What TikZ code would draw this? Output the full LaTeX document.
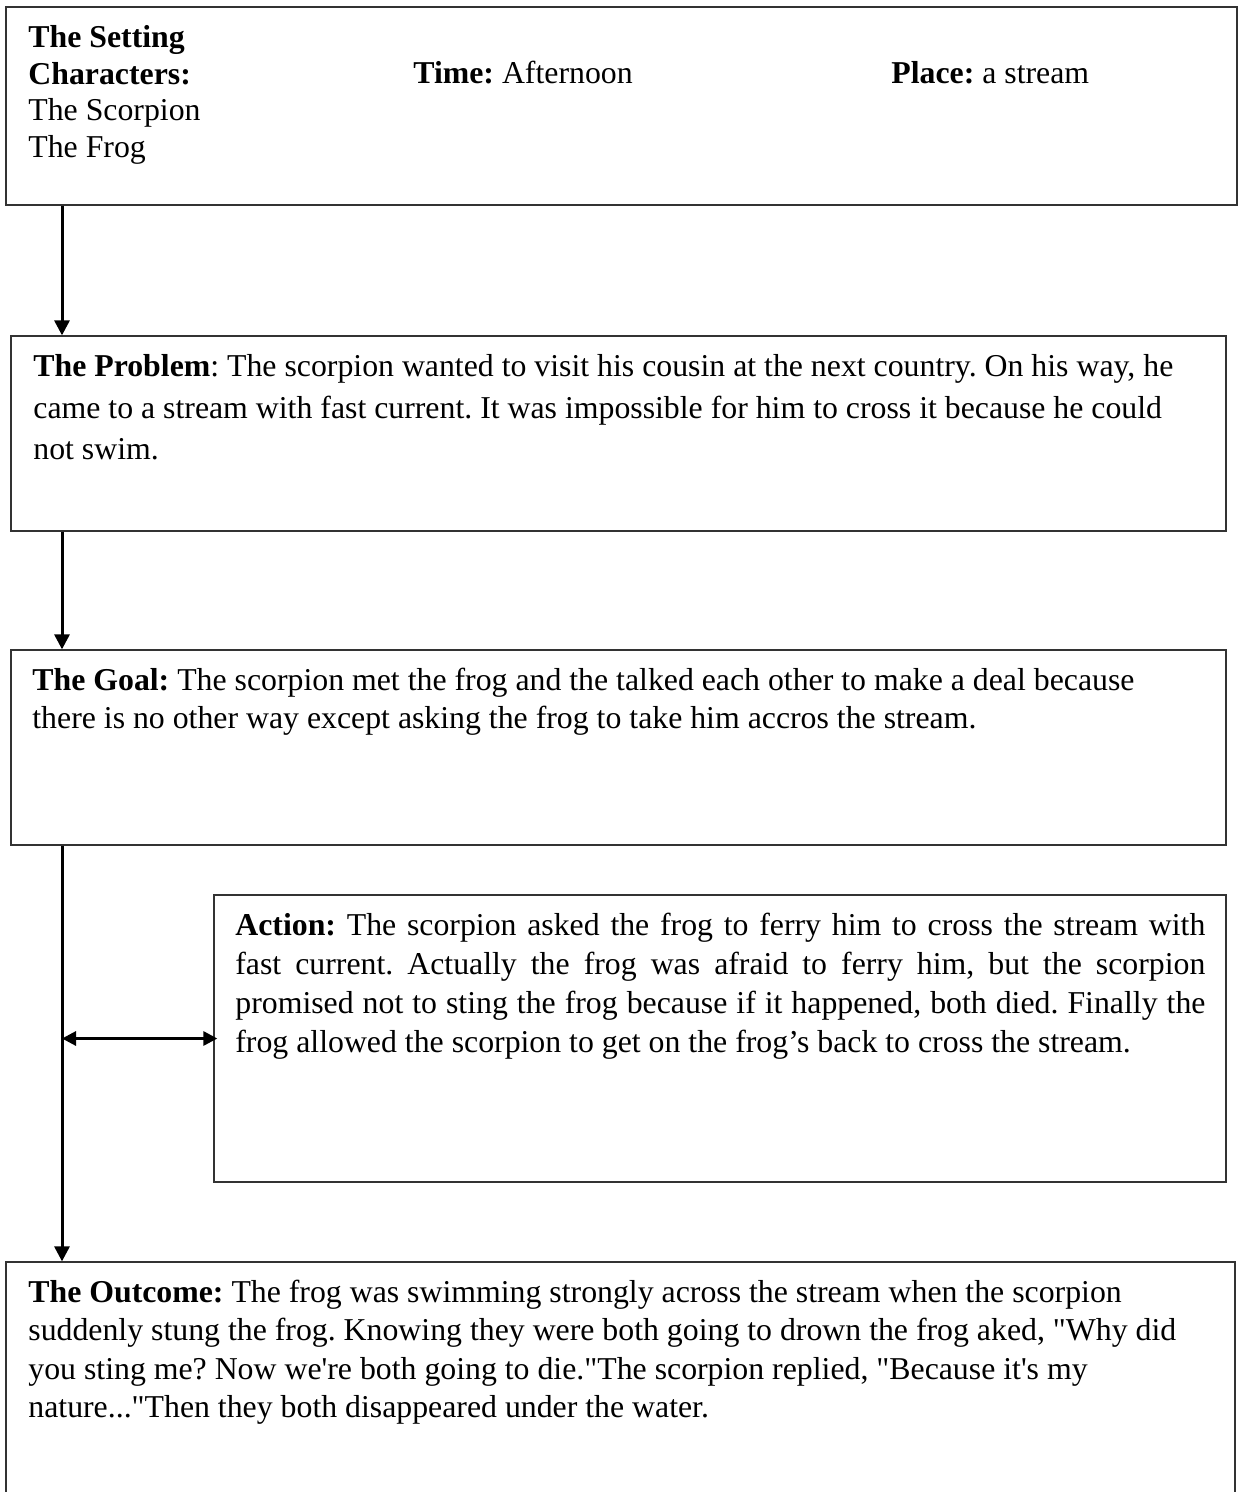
\documentclass[tikz,border=0pt]{standalone}
\usepackage{fontspec}
\setmainfont{Liberation Serif}
\usetikzlibrary{arrows.meta,fit}
\newcommand{\qd}{\textquotedbl{}}
\newcommand{\qs}{\textquotesingle{}}
\begin{document}
\frenchspacing
\begin{tikzpicture}[x=0.5pt,y=-0.5pt,
  box/.style={draw=black!80, line width=0.65pt, inner sep=0pt, rectangle},
  txt/.style={inner sep=0pt, anchor=base west, text=black, font=\frenchspacing},
  arr/.style={line width=1.5pt, -{Triangle[length=7.5pt,width=7.5pt]}},
  darr/.style={line width=1.5pt, {Triangle[length=7pt,width=7pt]}-{Triangle[length=7pt,width=7pt]}}]
\useasboundingbox (0,0) rectangle (1243,1492);
\clip (0,0) rectangle (1243,1492);
\fill[white] (0,0) rectangle (1243,1492);
% boxes
\node[box, fit={(6,7) (1237,205)}] (setting) {};
\node[box, fit={(11,336) (1226,531)}] (problem) {};
\node[box, fit={(11,650) (1226,845)}] (goal) {};
\node[box, fit={(214,895) (1226,1182)}] (action) {};
\node[box, fit={(6,1262) (1235,1520)}] (outcome) {};
\coordinate (spine) at (62,0);
% texts
\node[txt] (settingtxt) at (28,48) {\parbox[t]{300pt}{\fontsize{15.9pt}{18.25pt}\selectfont\raggedright
\textbf{The Setting}\\
\textbf{Characters:}\\
The Scorpion\\
The Frog}};
\node[txt] (timetxt) at (413,84) {\fontsize{15.9pt}{18.25pt}\selectfont\textbf{Time:} Afternoon};
\node[txt] (placetxt) at (891,84) {\fontsize{15.9pt}{18.25pt}\selectfont\textbf{Place:} a stream};
\node[txt] (problemtxt) at (33,377) {\parbox[t]{600pt}{\fontsize{15.9pt}{20.6pt}\selectfont\raggedright
\textbf{The Problem}: The scorpion wanted to visit his cousin at the next country. On his way, he\\
came to a stream with fast current. It was impossible for him to cross it because he could\\
not swim.}};
\node[txt] (goaltxt) at (32,690) {\parbox[t]{600pt}{\fontsize{15.9pt}{19pt}\selectfont\raggedright
\textbf{The Goal:} The scorpion met the frog and the talked each other to make a deal because\\
there is no other way except asking the frog to take him accros the stream.}};
\node[txt] (actiontxt) at (235,935) {\parbox[t]{485pt}{\fontsize{15.9pt}{19.5pt}\selectfont\raggedright
\makebox[485pt][s]{\textbf{Action:} The scorpion asked the frog to ferry him to cross the stream with}\\
\makebox[485pt][s]{fast current. Actually the frog was afraid to ferry him, but the scorpion}\\
\makebox[485pt][s]{promised not to sting the frog because if it happened, both died. Finally the}\\
frog allowed the scorpion to get on the frog’s back to cross the stream.}};
\node[txt] (outcometxt) at (28,1302) {\parbox[t]{600pt}{\fontsize{15.9pt}{19.25pt}\selectfont\raggedright
\textbf{The Outcome:} The frog was swimming strongly across the stream when the scorpion\\
suddenly stung the frog. Knowing they were both going to drown the frog aked, \qd Why did\\
you sting me? Now we\qs re both going to die.\qd The scorpion replied, \qd Because it\qs s my\\
nature...\qd Then they both disappeared under the water.}};
% connectors
\draw[arr] (setting.south -| spine) -- (problem.north -| spine);
\draw[arr] (problem.south -| spine) -- (goal.north -| spine);
\draw[arr] (goal.south -| spine) -- (outcome.north -| spine);
\draw[darr, shorten >=-2pt] (action.west -| spine) -- (action.west);
\end{tikzpicture}
\end{document}
